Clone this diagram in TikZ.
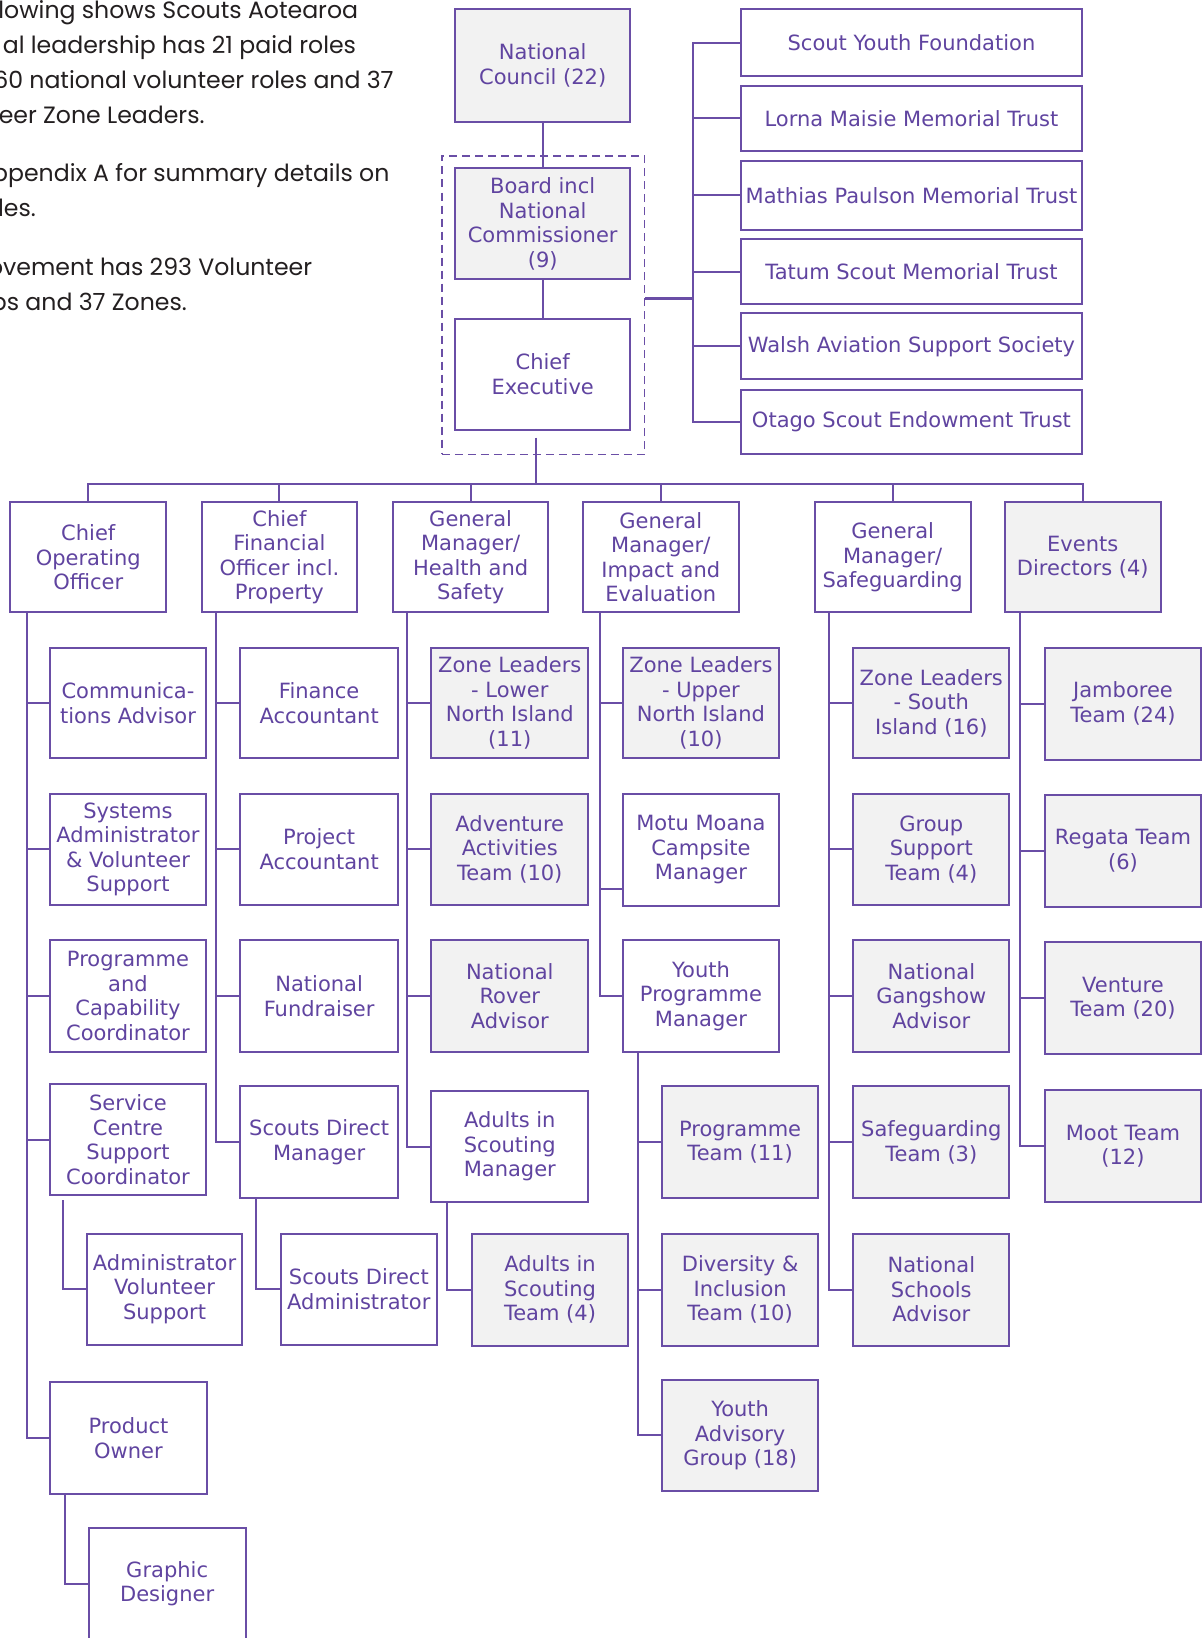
\documentclass[tikz,border=0pt]{standalone}
\usepackage{fontspec}
\setmainfont{DejaVu Sans}
\newfontfamily\parafont{Poppins}
\definecolor{lc}{RGB}{106,78,166}
\definecolor{tc}{RGB}{96,68,160}
\definecolor{gf}{RGB}{242,242,242}
\definecolor{pc}{RGB}{35,31,32}
\tikzset{
  box/.style={draw=lc, line width=2pt, text=tc, align=center, inner sep=0pt,
    font=\fontsize{21}{24.5}\selectfont},
  wbox/.style={box, fill=white},
  gbox/.style={box, fill=gf},
  grpbox/.style={draw=lc, line width=1.8pt, dash pattern=on 8pt off 5pt, inner sep=0pt},
  conn/.style={draw=lc, line width=2pt},
  para/.style={anchor=base east, inner sep=0pt, text=pc, font=\parafont\fontsize{23.6}{28}\selectfont}
}
\newcommand{\bx}[7]{%
  \pgfmathsetmacro\bxw{(#4-#2)*1.0443-2}%
  \pgfmathsetmacro\bxh{(#5-#3)*1.0443-2}%
  \node[#7, minimum width=\bxw pt, minimum height=\bxh pt] (#1) at ({(#2+#4)/2},{(#3+#5)/2}) {#6};}
\begin{document}
\begin{tikzpicture}[x=1.0443pt, y=-1.0443pt]
\useasboundingbox (0,0) rectangle (1152,1568);
\fill[white] (0,0) rectangle (1152,1568);
\begin{scope}
\clip (0,0) rectangle (1152,1568);
% paragraph text (left-cropped in the reference)
\node[para] (p1) at (343,17.6) {llowing shows Scouts Aotearoa};
\node[para] (p2) at (341,51) {al leadership has 21 paid roles};
\node[para] (p3) at (377,84.6) {60 national volunteer roles and 37};
\node[para] (p4) at (196,118) {eer Zone Leaders.};
\node[para] (p5) at (373,174) {ppendix A for summary details on};
\node[para] (p6) at (34.5,207.5) {les.};
\node[para] (p7) at (299,263.3) {ovement has 293 Volunteer};
\node[para] (p8) at (179,297) {ps and 37 Zones.};

% top column
\bx{grp}{422}{148}{618}{436}{}{grpbox}
\bx{nc}{435}{8}{604}{117.5}{National\\Council (22)}{gbox}
\bx{board}{435}{160}{604}{268.5}{Board incl\\National\\Commissioner\\(9)}{gbox}
\bx{ce}{435}{304}{604}{412.5}{Chief\\Executive}{wbox}

% trusts
\bx{syf}{708}{8}{1037}{74}{Scout Youth Foundation}{wbox}
\bx{lmmt}{708}{81}{1037}{145.5}{Lorna Maisie Memorial Trust}{wbox}
\bx{mpmt}{708}{153}{1037}{221}{Mathias Paulson Memorial Trust}{wbox}
\bx{tsmt}{708}{228}{1037}{292}{Tatum Scout Memorial Trust}{wbox}
\bx{wass}{708}{299}{1037}{364}{Walsh Aviation Support Society}{wbox}
\bx{oset}{708}{372}{1037}{436}{Otago Scout Endowment Trust}{wbox}

% level 1
\bx{coo}{9}{480}{160}{587}{Chief\\Operating\\Officer}{wbox}
\bx{cfo}{192}{480}{343}{587}{Chief\\Financial\\Officer incl.\\Property}{wbox}
\bx{gmhs}{375}{480}{526}{587}{General\\Manager/\\Health and\\Safety}{wbox}
\bx{gmie}{557}{480}{708}{587}{General\\Manager/\\Impact and\\Evaluation}{wbox}
\bx{gms}{779}{480}{930}{587}{General\\Manager/\\Safeguarding}{wbox}
\bx{ed}{961}{480}{1112}{587}{Events\\Directors (4)}{gbox}

% column 1
\bx{comm}{47}{619}{198}{727}{Communica-\\tions Advisor}{wbox}
\bx{sys}{47}{759}{198}{867}{Systems\\Administrator\\\& Volunteer\\Support}{wbox}
\bx{pcc}{47}{899}{198}{1008}{Programme\\and\\Capability\\Coordinator}{wbox}
\bx{scsc}{47}{1037}{198}{1145}{Service\\Centre\\Support\\Coordinator}{wbox}
\bx{avs}{82}{1180}{233}{1288}{Administrator\\Volunteer\\Support}{wbox}
\bx{po}{47}{1322}{199}{1431}{Product\\Owner}{wbox}
\bx{gd}{84}{1462}{236}{1570}{Graphic\\Designer}{wbox}

% column 2
\bx{fa}{229}{619}{382}{727}{Finance\\Accountant}{wbox}
\bx{pa}{229}{759}{382}{867}{Project\\Accountant}{wbox}
\bx{nf}{229}{899}{382}{1008}{National\\Fundraiser}{wbox}
\bx{sdm}{229}{1039}{382}{1148}{Scouts Direct\\Manager}{wbox}
\bx{sda}{268}{1180}{419}{1288}{Scouts Direct\\Administrator}{wbox}

% column 3
\bx{zllni}{412}{619}{564}{727}{Zone Leaders\\- Lower\\North Island\\(11)}{gbox}
\bx{aat}{412}{759}{564}{867}{Adventure\\Activities\\Team (10)}{gbox}
\bx{nra}{412}{899}{564}{1008}{National\\Rover\\Advisor}{gbox}
\bx{aism}{412}{1043}{564}{1152}{Adults in\\Scouting\\Manager}{wbox}
\bx{aist}{451}{1180}{602}{1289}{Adults in\\Scouting\\Team (4)}{gbox}

% column 4
\bx{zluni}{595}{619}{747}{727}{Zone Leaders\\- Upper\\North Island\\(10)}{gbox}
\bx{mmcm}{595}{759}{747}{868}{Motu Moana\\Campsite\\Manager}{wbox}
\bx{ypm}{595}{899}{747}{1008}{Youth\\Programme\\Manager}{wbox}
\bx{pt}{633}{1039}{784}{1148}{Programme\\Team (11)}{gbox}
\bx{dit}{633}{1180}{784}{1289}{Diversity \&\\Inclusion\\Team (10)}{gbox}
\bx{yag}{633}{1320}{784}{1428}{Youth\\Advisory\\Group (18)}{gbox}

% column 5
\bx{zlsi}{816}{619}{967}{727}{Zone Leaders\\- South\\Island (16)}{gbox}
\bx{gst}{816}{759}{967}{867}{Group\\Support\\Team (4)}{gbox}
\bx{nga}{816}{899}{967}{1008}{National\\Gangshow\\Advisor}{gbox}
\bx{sgt}{816}{1039}{967}{1148}{Safeguarding\\Team (3)}{gbox}
\bx{nsa}{816}{1180}{967}{1289}{National\\Schools\\Advisor}{gbox}

% column 6
\bx{jt}{999}{619}{1151}{728}{Jamboree\\Team (24)}{gbox}
\bx{rt}{999}{760}{1151}{869}{Regata Team\\(6)}{gbox}
\bx{vt}{999}{901}{1151}{1010}{Venture\\Team (20)}{gbox}
\bx{mt}{999}{1042}{1151}{1152}{Moot Team\\(12)}{gbox}

% connectors: top
\draw[conn] (nc.south) -- (board.north);
\draw[conn] (board.south) -- (ce.north);
\coordinate (cedrop) at (513,419);
\coordinate (bus) at (513,463);
\draw[conn] (cedrop) -- (bus);
\draw[conn] (coo.north) |- (bus) -| (ed.north);
\foreach \n in {cfo,gmhs,gmie,gms} {\draw[conn] (\n.north) -- (\n.north |- bus);}

% trusts bus
\coordinate (tb) at (663,285.7);
\draw[conn, line width=3pt] (grp.east |- tb) -- (tb);
\foreach \n in {syf,lmmt,mpmt,tsmt,wass,oset} {\draw[conn] (tb) |- (\n.west);}

% column trunks
\coordinate (t1) at (26,587);
\coordinate (t2) at (207,587);
\coordinate (t3) at (390,587);
\coordinate (t4) at (574,587);
\coordinate (t5) at (794,587);
\coordinate (t6) at (976,587);
\foreach \n in {comm,sys,pcc,scsc,po} {\draw[conn] (t1) |- (\n.west);}
\foreach \n in {fa,pa,nf,sdm} {\draw[conn] (t2) |- (\n.west);}
\foreach \n in {zllni,aat,nra,aism} {\draw[conn] (t3) |- (\n.west);}
\foreach \n in {zluni,ypm} {\draw[conn] (t4) |- (\n.west);}
\draw[conn] (t4) |- ([yshift=-39pt]mmcm.west);
\foreach \n in {zlsi,gst,nga,sgt,nsa} {\draw[conn] (t5) |- (\n.west);}
\foreach \n in {jt,rt,vt,mt} {\draw[conn] (t6) |- (\n.west);}

% sub-branches
\coordinate (s1) at (60,1149);
\draw[conn] (s1) |- (avs.west);
\coordinate (s0) at (62,1431);
\draw[conn] (s0) |- (gd.west);
\coordinate (s2) at (245.5,1148);
\draw[conn] (s2) |- (sda.west);
\coordinate (s3) at (427.5,1152);
\draw[conn] (s3) |- (aist.west);
\coordinate (s4) at (611,1008);
\foreach \n in {pt,dit,yag} {\draw[conn] (s4) |- (\n.west);}
\end{scope}
\end{tikzpicture}
\end{document}
